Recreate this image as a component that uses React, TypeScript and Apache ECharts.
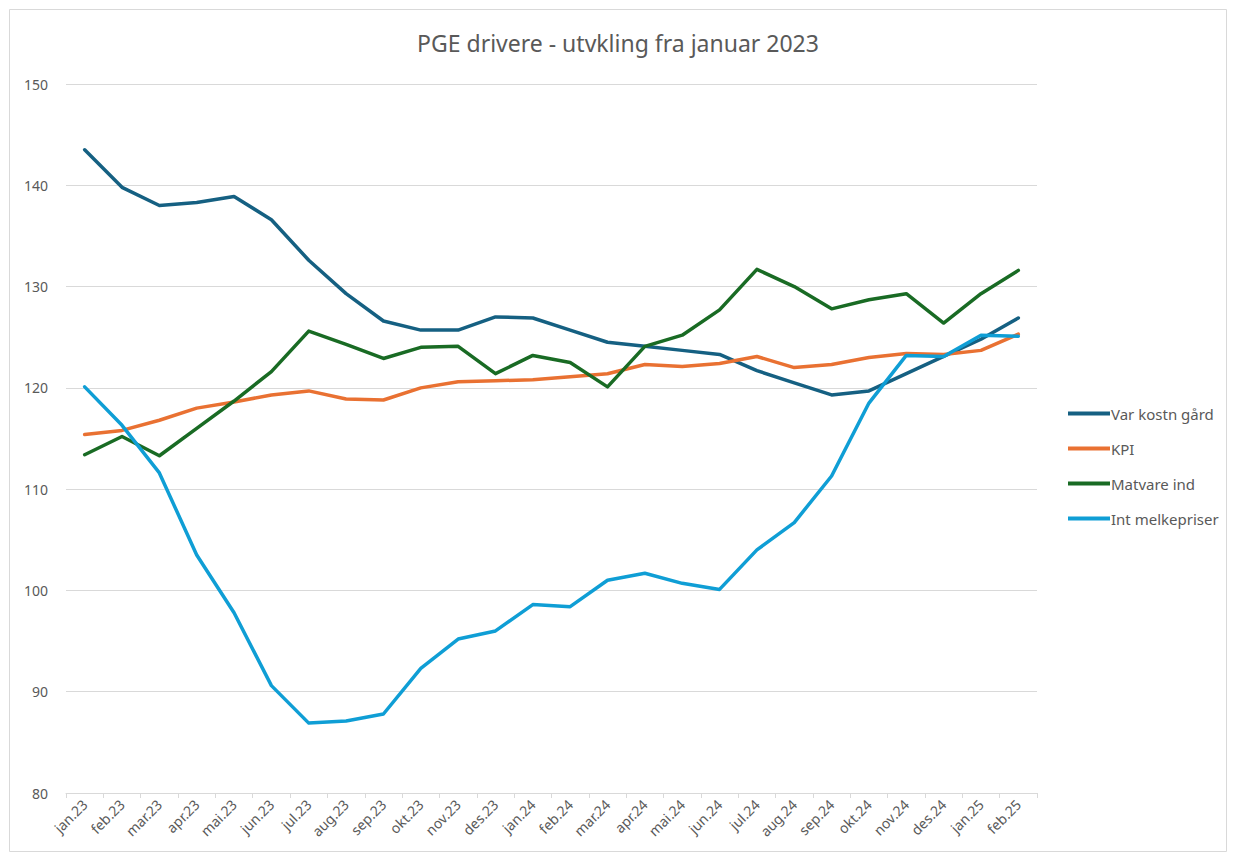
import React, { useEffect, useRef } from "react";
import * as echarts from "echarts";

const categories = [
  "jan.23", "feb.23", "mar.23", "apr.23", "mai.23", "jun.23", "jul.23", "aug.23", "sep.23", "okt.23", "nov.23", "des.23",
  "jan.24", "feb.24", "mar.24", "apr.24", "mai.24", "jun.24", "jul.24", "aug.24", "sep.24", "okt.24", "nov.24", "des.24",
  "jan.25", "feb.25",
];

const varKostnGard = [
  143.5, 139.8, 138.0, 138.3, 138.9, 136.6, 132.6, 129.3, 126.6, 125.7, 125.7, 127.0,
  126.9, 125.7, 124.5, 124.1, 123.7, 123.3, 121.7, 120.5, 119.3, 119.7, 121.4, 123.1,
  124.8, 126.9,
];

const kpi = [
  115.4, 115.8, 116.8, 118.0, 118.6, 119.3, 119.7, 118.9, 118.8, 120.0, 120.6, 120.7,
  120.8, 121.1, 121.4, 122.3, 122.1, 122.4, 123.1, 122.0, 122.3, 123.0, 123.4, 123.3,
  123.7, 125.3,
];

const matvareInd = [
  113.4, 115.2, 113.3, 116.0, 118.7, 121.6, 125.6, 124.3, 122.9, 124.0, 124.1, 121.4,
  123.2, 122.5, 120.1, 124.1, 125.2, 127.7, 131.7, 130.0, 127.8, 128.7, 129.3, 126.4,
  129.3, 131.6,
];

const intMelkepriser = [
  120.1, 116.3, 111.6, 103.5, 97.8, 90.6, 86.9, 87.1, 87.8, 92.3, 95.2, 96.0,
  98.6, 98.4, 101.0, 101.7, 100.7, 100.1, 104.0, 106.7, 111.3, 118.5, 123.2, 123.1,
  125.2, 125.1,
];

const yTicks = { min: 80, max: 150, interval: 10 };

const seriesDefs = [
  { name: "Var kostn gård", data: varKostnGard, color: "#156082" },
  { name: "KPI", data: kpi, color: "#E97132" },
  { name: "Matvare ind", data: matvareInd, color: "#196B24" },
  { name: "Int melkepriser", data: intMelkepriser, color: "#0F9ED5" },
];

const FONT = "'Noto Sans', 'Open Sans', sans-serif";
const TEXT = "#595959";

export default function App() {
  const ref = useRef<HTMLDivElement>(null);

  useEffect(() => {
    document.body.style.margin = "0";
    if (!ref.current) return;
    const chart = echarts.init(ref.current, undefined, { renderer: "svg" });
    chart.setOption({
      animation: false,
      backgroundColor: "#ffffff",
      textStyle: { fontFamily: FONT },
      title: {
        text: "PGE drivere - utvkling fra januar 2023",
        left: "center",
        top: 26,
        textStyle: { fontFamily: FONT, fontSize: 23, fontWeight: "normal", color: TEXT },
      },
      graphic: [
        {
          type: "rect",
          shape: { x: 9.5, y: 9.5, width: 1217, height: 842 },
          style: { fill: "none", stroke: "#d9d9d9", lineWidth: 1 },
          silent: true,
        },
      ],
      legend: {
        orient: "vertical",
        left: 1063,
        top: 401,
        itemWidth: 42,
        itemHeight: 14,
        itemGap: 20,
        data: seriesDefs.map((s) => ({ name: s.name, icon: "path://M0,0 L42,0 L42,4 L0,4 Z" })),
        textStyle: { fontFamily: FONT, fontSize: 15, color: TEXT, padding: [0, 0, 0, -4] },
      },
      grid: { left: 66, right: 199, top: 84, bottom: 68, containLabel: false },
      xAxis: {
        type: "category",
        data: categories,
        boundaryGap: true,
        axisLine: { show: true, lineStyle: { color: "#d9d9d9", width: 1 } },
        axisTick: { show: true, length: 5, lineStyle: { color: "#d9d9d9" }, alignWithLabel: false },
        axisLabel: { rotate: 45, fontSize: 14, color: TEXT, fontFamily: FONT, interval: 0, margin: 9 },
      },
      yAxis: {
        type: "value",
        min: yTicks.min,
        max: yTicks.max,
        interval: yTicks.interval,
        axisLine: { show: false },
        axisTick: { show: false },
        splitLine: { lineStyle: { color: "#d9d9d9", width: 1 } },
        axisLabel: { fontSize: 14, color: TEXT, fontFamily: FONT, margin: 18 },
      },
      series: seriesDefs.map((s) => ({
        name: s.name,
        type: "line",
        data: s.data,
        symbol: "none",
        smooth: false,
        color: s.color,
        lineStyle: { color: s.color, width: 3.5, cap: "round", join: "round" },
        itemStyle: { color: s.color },
      })),
    });
    return () => chart.dispose();
  }, []);

  return <div ref={ref} style={{ position: "absolute", left: 0, top: 0, width: 1236, height: 861 }} />;
}
